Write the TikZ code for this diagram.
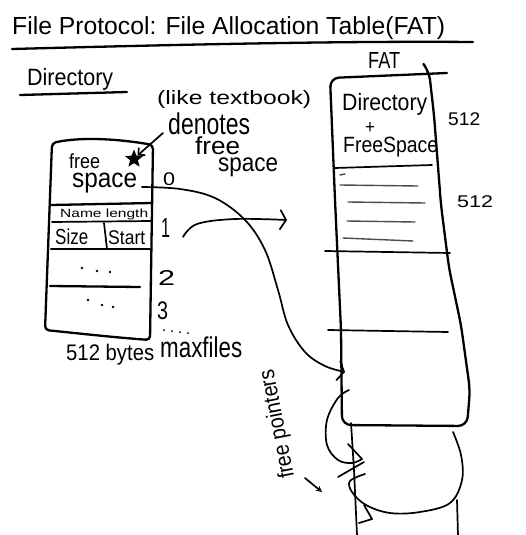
\documentclass[tikz,border=0pt]{standalone}
\usepackage{fontspec}
\setmainfont{Liberation Sans}
\usepackage{graphicx}
\usetikzlibrary{arrows.meta,shapes.geometric}
\newcommand{\handtxt}[3]{\resizebox*{#1pt}{#2pt}{#3}}
\tikzset{
  pen/.style={line width=2.3pt, line cap=round, line join=round},
  midpen/.style={line width=1.7pt, line cap=round, line join=round},
  thinpen/.style={line width=1.4pt, line cap=round, black!70},
  lbl/.style={inner sep=0pt, anchor=north west},
  dotmark/.style={circle, fill, inner sep=0pt, minimum size=2.6pt},
  barb/.style={-{Straight Barb[length=6pt,width=20pt]}},
}
\begin{document}
\begin{tikzpicture}[x=1pt,y=-1pt]
\useasboundingbox[fill=white] (0,0) rectangle (526,535);

% ---- title ----
\node[lbl] (title) at (12,16) {\handtxt{433}{23}{File Protocol: File Allocation Table(FAT)}};
\coordinate (ulA) at (12,49);
\coordinate (ulB) at (473,42);
\draw[pen] (ulA) .. controls (200,44) and (350,41) .. (ulB);

% ---- Directory heading ----
\node[lbl] (dirhead) at (27,68) {\handtxt{86}{22}{Directory}};
\coordinate (duA) at (20,95);
\coordinate (duB) at (127,92);
\draw[pen] (duA) -- (duB);

% ---- annotation ----
\node[lbl] (like) at (157,90) {\handtxt{154}{18}{(like textbook)}};
\node[lbl] (denotes) at (168,113) {\handtxt{82}{22}{denotes}};
\node[lbl] (free2) at (195,137) {\handtxt{45}{18}{free}};
\node[lbl] (space2) at (218,158) {\handtxt{60}{19}{space}};

% ---- left directory box ----
\draw[pen, rounded corners=4] (52,143) .. controls (85,136) and (125,140) .. (153,145)
   -- (150,340) .. controls (110,337) and (75,333) .. (45,330) -- cycle;
\draw[pen] (51,205) -- (152,203);
\draw[midpen] (52,222) -- (151,221);
\draw[pen] (51,249) -- (151,249);
\draw[midpen] (104,223) -- (107,249);
\draw[pen] (50,286) -- (140,287);

\node[lbl] (freeA) at (69,153) {\handtxt{31}{15}{free}};
\node[lbl] (spaceA) at (72,173) {\handtxt{65}{20}{space}};
\node[star, star points=5, star point ratio=2.3, fill, inner sep=0pt, minimum size=19pt] (star) at (134,159) {};
\node[lbl] (namelen) at (60,209) {\handtxt{88}{11}{Name length}};
\node[lbl] (size) at (55,229) {\handtxt{33}{16}{Size}};
\node[lbl] (start) at (108,230) {\handtxt{37}{14}{Start}};
\node[dotmark] (d1) at (82,268) {};
\node[dotmark] (d2) at (97,271) {};
\node[dotmark] (d3) at (110,272) {};
\node[dotmark] (d4) at (88,300) {};
\node[dotmark] (d5) at (102,305) {};
\node[dotmark] (d6) at (113,307) {};

% row labels
\node[lbl] (r0) at (163,172) {\handtxt{12}{13}{0}};
\node[lbl] (r1) at (161,218) {\handtxt{9}{19}{1}};
\node[lbl] (r2) at (158,270) {\handtxt{17}{15}{2}};
\node[lbl] (r3) at (157,302) {\handtxt{11}{18}{3}};
\node[dotmark, minimum size=2pt] (e1) at (164,330) {};
\node[dotmark, minimum size=2pt] (e2) at (172,331) {};
\node[dotmark, minimum size=2pt] (e3) at (180,332) {};
\node[dotmark, minimum size=2pt] (e4) at (188,333) {};
\node[lbl] (maxf) at (160,337) {\handtxt{82}{21}{maxfiles}};
\node[lbl] (bytes) at (66,344) {\handtxt{88}{21}{512 bytes}};

% arrow from "denotes" to the star
\coordinate (dnA) at (163,133);
\draw[midpen, -{Straight Barb[length=5pt,width=10pt]}] (dnA) -- (star.north east);

% ---- FAT ----
\node[lbl] (fatlbl) at (368,52) {\handtxt{32}{16}{FAT}};
\draw[pen, rounded corners=9] (447,73) -- (330,78) -- (335,200) -- (341,330) -- (342,425)
   -- (467,426) -- (470,390) -- (461,325) -- (449,268) -- (441,205) -- (434,115) -- (429,71) -- (425,66);
\node[lbl] (fdir) at (342,93) {\handtxt{85}{22}{Directory}};
\node[lbl] (fplus) at (365,122) {\handtxt{10}{11}{+}};
\node[lbl] (ffree) at (343,137) {\handtxt{95}{20}{FreeSpace}};
\draw[midpen] (335,168) -- (432,165);
\draw[thinpen] (340,175) -- (345,174);
\draw[thinpen] (340,185) -- (418,186);
\draw[thinpen] (348,202) -- (425,203);
\draw[thinpen] (347,221) -- (415,222);
\draw[thinpen] (343,238) -- (413,241);
\draw[midpen] (325,251) -- (450,253);
\draw[midpen] (328,330) -- (448,332);
\node[lbl] (s1) at (448,112) {\handtxt{32}{13}{512}};
\node[lbl] (s2) at (457,195) {\handtxt{36}{12}{512}};

% ---- connectors ----
\coordinate (fsA) at (142,187);
\coordinate (fsB) at (345,372);
\draw[midpen, barb] plot[smooth, tension=0.6] coordinates {(fsA) (180,189) (215,198) (245,220) (265,250) (278,290) (288,325) (305,352) (325,366) (fsB)};
\coordinate (rA) at (183,237);
\coordinate (rB) at (287,220);
\draw[midpen, barb] plot[smooth, tension=0.6] coordinates {(rA) (197,224) (235,219) (rB)};

% ---- scribbles below FAT ----
\draw[midpen] plot[smooth, tension=0.6] coordinates {(453,432) (461,455) (462,480) (450,503) (420,512) (390,513) (366,505) (352,492) (350,481) (365,474)};
\draw[midpen] (351,423) -- (354,470) -- (357,535);
\draw[midpen] (457,500) -- (458,535);
\draw[midpen] (364,505) -- (372,519) -- (359,523);
\draw[midpen] plot[smooth, tension=0.6] coordinates {(349,390) (338,398) (327,420) (327,445) (338,460) (352,463) (362,459)};
\draw[midpen] (362,459) -- (348,444);
\draw[midpen] (338,477) -- (364,462);

% ---- free pointers ----
\node[inner sep=0pt, rotate=101] (fp) at (278,424) {\handtxt{110}{21}{free pointers}};
\coordinate (fpA) at (305,478);
\coordinate (fpB) at (322,492);
\draw[midpen, -{Stealth[length=6pt,width=6pt]}] (fpA) -- (fpB);
\end{tikzpicture}
\end{document}
